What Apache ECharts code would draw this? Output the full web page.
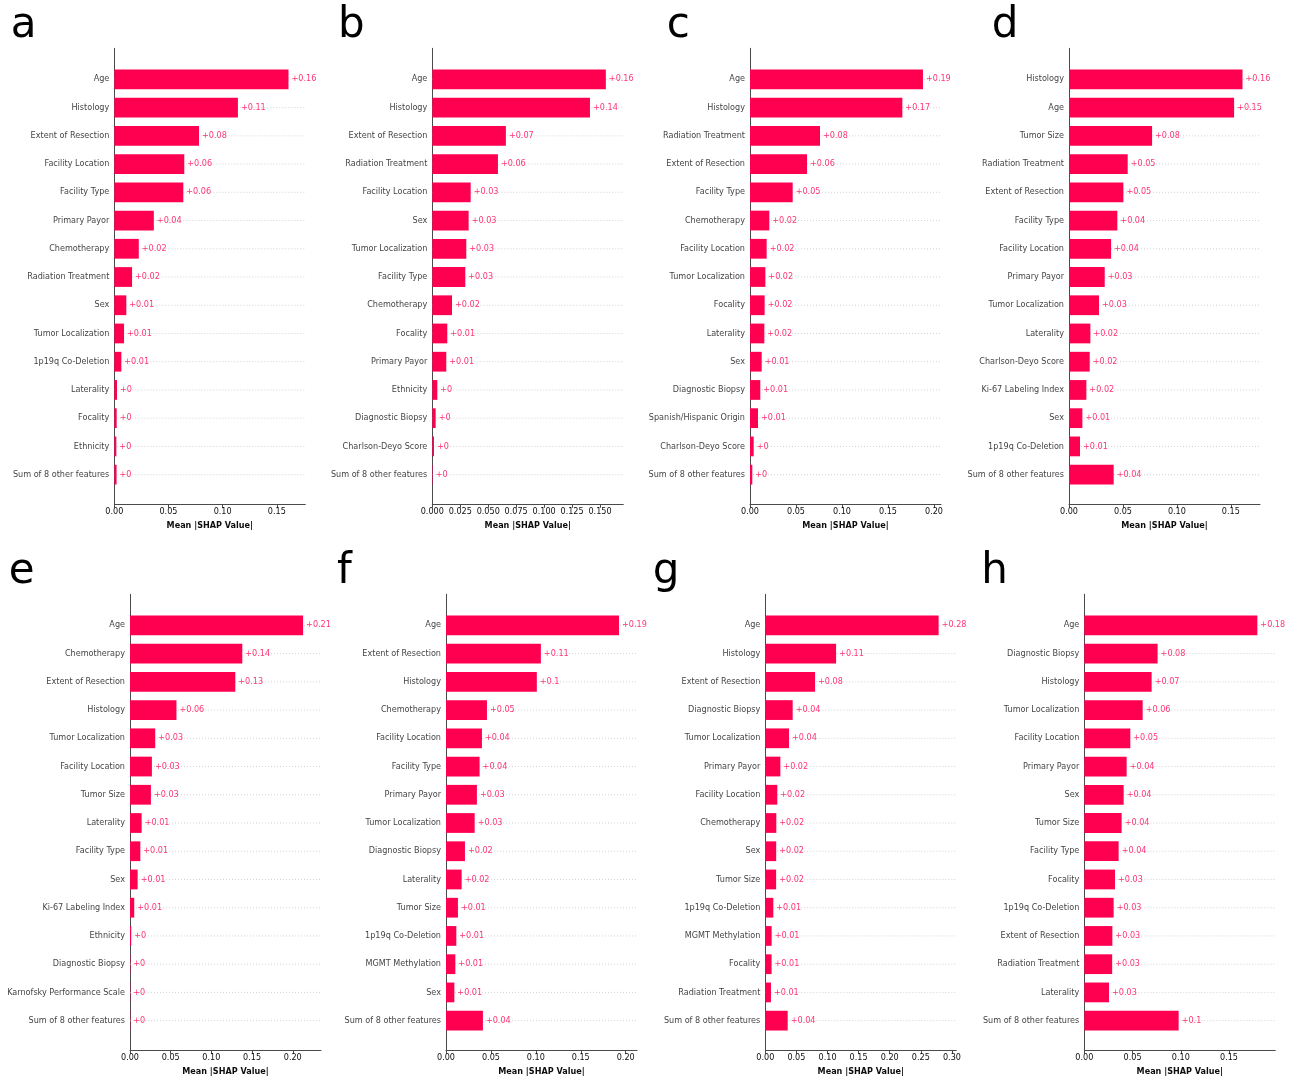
<!DOCTYPE html>
<html>
<head>
<meta charset="utf-8">
<title>Mean |SHAP Value| by feature</title>
<script src="https://cdn.jsdelivr.net/npm/echarts@6/dist/echarts.min.js"></script>
<style>
  html, body { margin: 0; padding: 0; background: #ffffff; }
  #chart { width: 1293px; height: 1079px; }
</style>
</head>
<body>
<div id="chart"></div>
<script>
// ---- Data: features listed top to bottom with their mean |SHAP| values ----
const featuresA = ['Age', 'Histology', 'Extent of Resection', 'Facility Location', 'Facility Type', 'Primary Payor', 'Chemotherapy', 'Radiation Treatment', 'Sex', 'Tumor Localization', '1p19q Co-Deletion', 'Laterality', 'Focality', 'Ethnicity', 'Sum of 8 other features'];
const shapA = [0.1608, 0.1141, 0.0782, 0.0646, 0.0637, 0.0365, 0.0226, 0.0164, 0.0111, 0.0090, 0.0065, 0.0025, 0.0022, 0.0019, 0.0021];
const tickLabelsA = ['0.00', '0.05', '0.10', '0.15'];

const featuresB = ['Age', 'Histology', 'Extent of Resection', 'Radiation Treatment', 'Facility Location', 'Sex', 'Tumor Localization', 'Facility Type', 'Chemotherapy', 'Focality', 'Primary Payor', 'Ethnicity', 'Diagnostic Biopsy', 'Charlson-Deyo Score', 'Sum of 8 other features'];
const shapB = [0.1552, 0.1410, 0.0658, 0.0587, 0.0343, 0.0325, 0.0304, 0.0295, 0.0176, 0.0134, 0.0125, 0.0045, 0.0030, 0.0015, 0.0004];
const tickLabelsB = ['0.000', '0.025', '0.050', '0.075', '0.100', '0.125', '0.150'];

const featuresC = ['Age', 'Histology', 'Radiation Treatment', 'Extent of Resection', 'Facility Type', 'Chemotherapy', 'Facility Location', 'Tumor Localization', 'Focality', 'Laterality', 'Sex', 'Diagnostic Biopsy', 'Spanish/Hispanic Origin', 'Charlson-Deyo Score', 'Sum of 8 other features'];
const shapC = [0.1880, 0.1656, 0.0761, 0.0620, 0.0464, 0.0210, 0.0181, 0.0167, 0.0159, 0.0156, 0.0127, 0.0112, 0.0087, 0.0040, 0.0025];
const tickLabelsC = ['0.00', '0.05', '0.10', '0.15', '0.20'];

const featuresD = ['Histology', 'Age', 'Tumor Size', 'Radiation Treatment', 'Extent of Resection', 'Facility Type', 'Facility Location', 'Primary Payor', 'Tumor Localization', 'Laterality', 'Charlson-Deyo Score', 'Ki-67 Labeling Index', 'Sex', '1p19q Co-Deletion', 'Sum of 8 other features'];
const shapD = [0.1608, 0.1530, 0.0770, 0.0544, 0.0504, 0.0448, 0.0390, 0.0331, 0.0278, 0.0198, 0.0192, 0.0161, 0.0124, 0.0102, 0.0414];
const tickLabelsD = ['0.00', '0.05', '0.10', '0.15'];

const featuresE = ['Age', 'Chemotherapy', 'Extent of Resection', 'Histology', 'Tumor Localization', 'Facility Location', 'Tumor Size', 'Laterality', 'Facility Type', 'Sex', 'Ki-67 Labeling Index', 'Ethnicity', 'Diagnostic Biopsy', 'Karnofsky Performance Scale', 'Sum of 8 other features'];
const shapE = [0.2127, 0.1380, 0.1294, 0.0571, 0.0310, 0.0269, 0.0257, 0.0143, 0.0127, 0.0094, 0.0052, 0.0015, 0.0004, 0.0003, 0.0003];
const tickLabelsE = ['0.00', '0.05', '0.10', '0.15', '0.20'];

const featuresF = ['Age', 'Extent of Resection', 'Histology', 'Chemotherapy', 'Facility Location', 'Facility Type', 'Primary Payor', 'Tumor Localization', 'Diagnostic Biopsy', 'Laterality', 'Tumor Size', '1p19q Co-Deletion', 'MGMT Methylation', 'Sex', 'Sum of 8 other features'];
const shapF = [0.1926, 0.1056, 0.1011, 0.0456, 0.0400, 0.0374, 0.0344, 0.0319, 0.0211, 0.0174, 0.0133, 0.0115, 0.0104, 0.0093, 0.0411];
const tickLabelsF = ['0.00', '0.05', '0.10', '0.15', '0.20'];

const featuresG = ['Age', 'Histology', 'Extent of Resection', 'Diagnostic Biopsy', 'Tumor Localization', 'Primary Payor', 'Facility Location', 'Chemotherapy', 'Sex', 'Tumor Size', '1p19q Co-Deletion', 'MGMT Methylation', 'Focality', 'Radiation Treatment', 'Sum of 8 other features'];
const shapG = [0.2786, 0.1138, 0.0800, 0.0440, 0.0381, 0.0242, 0.0193, 0.0177, 0.0175, 0.0174, 0.0129, 0.0102, 0.0101, 0.0091, 0.0360];
const tickLabelsG = ['0.00', '0.05', '0.10', '0.15', '0.20', '0.25', '0.30'];

const featuresH = ['Age', 'Diagnostic Biopsy', 'Histology', 'Tumor Localization', 'Facility Location', 'Primary Payor', 'Sex', 'Tumor Size', 'Facility Type', 'Focality', '1p19q Co-Deletion', 'Extent of Resection', 'Radiation Treatment', 'Laterality', 'Sum of 8 other features'];
const shapH = [0.1794, 0.0760, 0.0698, 0.0605, 0.0477, 0.0439, 0.0408, 0.0387, 0.0356, 0.0318, 0.0304, 0.0291, 0.0289, 0.0256, 0.0978];
const tickLabelsH = ['0.00', '0.05', '0.10', '0.15'];

const panelLetters = ['a', 'b', 'c', 'd', 'e', 'f', 'g', 'h'];
const axisTitle = 'Mean |SHAP Value|';

// ---- Layout and style ----
const RED = '#ff0051';
const FONT = 'DejaVu Sans';
const TEXT = '#0d0d0d';
const SPINE = '#4a4a4a';
const GRID_W = 191;
const GRID_H = 456;
const ROW_TOPS = [48.3, 594.3];
const BAR_HEIGHT = 0.7;       // in row units
const Y_MIN = -0.05, Y_MAX = 16.1;

const layout = [
  { left: 114.3,  row: 0, xMax: 0.1763, letterLeft: 10.8 },
  { left: 432.3,  row: 0, xMax: 0.1708, letterLeft: 338.0 },
  { left: 750.0,  row: 0, xMax: 0.2076, letterLeft: 666.7 },
  { left: 1069.0, row: 0, xMax: 0.1770, letterLeft: 991.7 },
  { left: 130.0,  row: 1, xMax: 0.2347, letterLeft: 8.7 },
  { left: 446.0,  row: 1, xMax: 0.2126, letterLeft: 337.0 },
  { left: 765.3,  row: 1, xMax: 0.3070, letterLeft: 652.7 },
  { left: 1084.3, row: 1, xMax: 0.1980, letterLeft: 981.2 }
];
const LETTER_TOPS = [5, 551];

const featureSets = [featuresA, featuresB, featuresC, featuresD, featuresE, featuresF, featuresG, featuresH];
const valueSets = [shapA, shapB, shapC, shapD, shapE, shapF, shapG, shapH];
const tickSets = [tickLabelsA, tickLabelsB, tickLabelsC, tickLabelsD, tickLabelsE, tickLabelsF, tickLabelsG, tickLabelsH];

// value label text: "+" and the value rounded to 2 decimals, trailing zeros dropped
function fmtValue(v) {
  return '+' + String(parseFloat(v.toFixed(2)));
}

// one bar with its dotted guide line across the plot width
function renderBar(params, api) {
  const v = api.value(0);
  const y = api.value(1);
  const start = api.coord([0, y]);
  const end = api.coord([v, y]);
  const h = api.size([0, BAR_HEIGHT])[1];
  const cs = params.coordSys;
  return {
    type: 'group',
    children: [
      {
        type: 'line',
        shape: { x1: start[0], y1: start[1], x2: cs.x + cs.width, y2: start[1] },
        style: { stroke: '#c8c8c8', lineWidth: 0.8, lineDash: [1, 2] },
        z2: 0
      },
      {
        type: 'rect',
        shape: { x: start[0], y: start[1] - h / 2, width: Math.max(end[0] - start[0], 0), height: h },
        style: { fill: RED },
        z2: 1
      }
    ]
  };
}

const grids = [], xAxes = [], yAxes = [], series = [], titles = [];

layout.forEach((L, i) => {
  const feats = featureSets[i];
  const vals = valueSets[i];
  const tickLabels = tickSets[i];
  const tickVals = tickLabels.map(parseFloat);
  const n = feats.length;
  const rowPos = k => n - k;   // top feature sits highest

  grids.push({ left: L.left, top: ROW_TOPS[L.row], width: GRID_W, height: GRID_H, containLabel: false });

  xAxes.push({
    type: 'value', gridIndex: i, min: 0, max: L.xMax, position: 'bottom',
    axisLine: { show: true, onZero: false, lineStyle: { color: SPINE, width: 1 } },
    axisTick: { show: true, length: 3.5, customValues: tickVals, lineStyle: { color: SPINE, width: 1 } },
    axisLabel: {
      show: true, customValues: tickVals, margin: 4, fontSize: 8.1, fontFamily: FONT, color: TEXT,
      formatter: v => {
        let best = 0;
        tickVals.forEach((t, j) => { if (Math.abs(t - v) < Math.abs(tickVals[best] - v)) best = j; });
        return tickLabels[best];
      }
    },
    splitLine: { show: false },
    name: axisTitle, nameLocation: 'middle', nameGap: 18,
    nameTextStyle: { fontSize: 8.1, fontWeight: 'bold', fontFamily: FONT, color: TEXT }
  });

  yAxes.push({
    type: 'value', gridIndex: i, min: Y_MIN, max: Y_MAX,
    axisLine: { show: true, onZero: false, lineStyle: { color: SPINE, width: 1 } },
    axisTick: { show: false }, axisLabel: { show: false }, splitLine: { show: false }
  });

  series.push({
    type: 'custom', xAxisIndex: i, yAxisIndex: i, silent: true, z: 1,
    renderItem: renderBar,
    data: vals.map((v, k) => [v, rowPos(k)])
  });

  series.push({
    type: 'scatter', xAxisIndex: i, yAxisIndex: i, silent: true, clip: false, z: 3,
    symbolSize: 0,
    data: vals.map((v, k) => [v, rowPos(k)]),
    label: {
      show: true, position: 'right', distance: 3,
      formatter: p => fmtValue(p.value[0]),
      fontSize: 8.1, fontFamily: FONT, color: RED
    }
  });

  series.push({
    type: 'scatter', xAxisIndex: i, yAxisIndex: i, silent: true, clip: false, z: 3,
    symbolSize: 0,
    data: feats.map((f, k) => ({ name: f, value: [0, rowPos(k)] })),
    label: {
      show: true, position: 'left', distance: 5, formatter: '{b}',
      fontSize: 8.1, fontFamily: FONT, color: TEXT
    }
  });

  titles.push({
    text: panelLetters[i], left: L.letterLeft, top: LETTER_TOPS[L.row], padding: 0,
    textStyle: { fontSize: 42, fontWeight: 'normal', fontFamily: FONT, color: '#000000' }
  });
});

const chart = echarts.init(document.getElementById('chart'), null, { renderer: 'canvas', width: 1293, height: 1079 });
chart.setOption({
  backgroundColor: '#ffffff',
  animation: false,
  title: titles,
  grid: grids,
  xAxis: xAxes,
  yAxis: yAxes,
  series: series
});
</script>
</body>
</html>
